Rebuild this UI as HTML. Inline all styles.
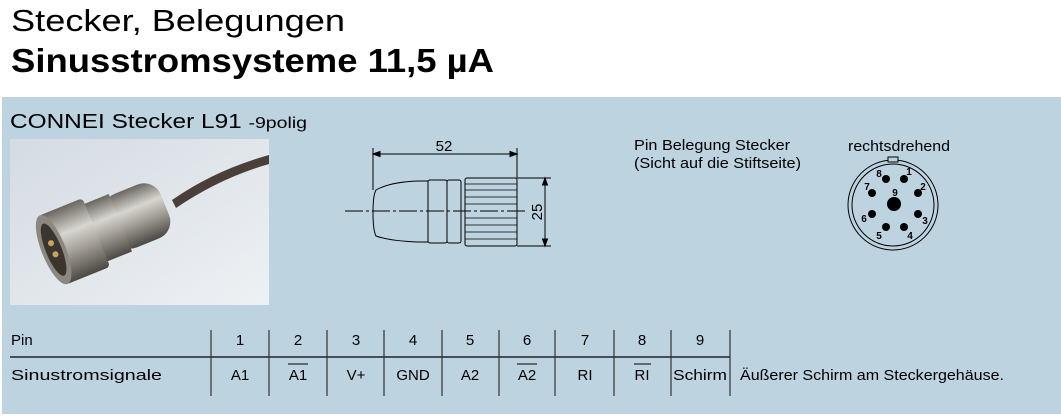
<!DOCTYPE html>
<html><head><meta charset="utf-8"><style>
body{margin:0;width:1061px;height:414px;background:#fff;overflow:hidden;font-family:"Liberation Sans",sans-serif;}
</style></head><body>
<svg width="1061" height="414" viewBox="0 0 1061 414" xmlns="http://www.w3.org/2000/svg" font-family="Liberation Sans, sans-serif">
<defs>
<linearGradient id="bg" x1="0" y1="0" x2="1" y2="1"><stop offset="0" stop-color="#d4dbe2"/><stop offset="1" stop-color="#eef1f4"/></linearGradient>
<linearGradient id="met" x1="0" y1="0" x2="0" y2="1"><stop offset="0" stop-color="#6a665f"/><stop offset="0.35" stop-color="#d8d6d0"/><stop offset="0.6" stop-color="#a7a39b"/><stop offset="1" stop-color="#4c4944"/></linearGradient>
</defs>
<text x="11" y="31" font-size="31" fill="#000" textLength="334" lengthAdjust="spacingAndGlyphs">Stecker, Belegungen</text>
<text x="11" y="72" font-size="33" font-weight="bold" fill="#000" textLength="483" lengthAdjust="spacingAndGlyphs">Sinusstromsysteme 11,5 µA</text>
<rect x="2" y="97" width="1059" height="317" fill="#bed3e0"/>
<text x="10" y="128" font-size="20" fill="#000" textLength="297" lengthAdjust="spacingAndGlyphs">CONNEI Stecker L91 <tspan font-size="16">-9polig</tspan></text>
<!-- photo -->
<rect x="10" y="139" width="259" height="166" fill="url(#bg)"/>
<path d="M172 200 Q215 170 269 155 L269 164 Q220 178 176 208 Z" fill="#4b3f3a"/>
<g transform="rotate(-22 105 230)">
<rect x="110" y="200" width="60" height="58" rx="18" fill="url(#met)"/>
<rect x="90" y="198" width="32" height="62" fill="url(#met)"/>
<rect x="48" y="192" width="48" height="74" rx="4" fill="url(#met)"/>
<ellipse cx="50" cy="229" rx="12" ry="37" fill="#8c8880"/>
<ellipse cx="50" cy="229" rx="8" ry="28" fill="#3a352e"/>
<circle cx="50" cy="222" r="3" fill="#c9a45a"/><circle cx="50" cy="234" r="3" fill="#c9a45a"/>
</g>
<!-- drawing -->
<g stroke="#000" fill="none" stroke-width="1">
<line x1="373" y1="148" x2="373" y2="190"/>
<line x1="517" y1="148" x2="517" y2="178"/>
<line x1="373" y1="154" x2="517" y2="154"/>
<path d="M373 154 l7 -2.5 v5z M517 154 l-7 -2.5 v5z" fill="#000"/>
<path d="M376 190 Q390 182 418 181 L428 181 L428 242 L418 242 Q390 241 376 236 Q373 230 373 213 Q373 195 376 190Z" fill="#bed3e0"/>
<rect x="428" y="180" width="19" height="63" rx="2"/>
<rect x="447" y="180" width="14" height="63" rx="2"/>
<rect x="465" y="178" width="52" height="68" rx="2"/>
<g stroke-width="0.8">
<line x1="465" y1="184" x2="517" y2="184"/><line x1="465" y1="190" x2="517" y2="190"/><line x1="465" y1="197" x2="517" y2="197"/><line x1="465" y1="204" x2="517" y2="204"/><line x1="465" y1="218" x2="517" y2="218"/><line x1="465" y1="225" x2="517" y2="225"/><line x1="465" y1="232" x2="517" y2="232"/><line x1="465" y1="239" x2="517" y2="239"/>
</g>
<line x1="345" y1="211" x2="528" y2="211" stroke-dasharray="18 3 3 3"/>
<line x1="517" y1="178" x2="551" y2="178"/>
<line x1="517" y1="246" x2="551" y2="246"/>
<line x1="545" y1="178" x2="545" y2="246"/>
<path d="M545 178 l-2.5 7 h5z M545 246 l-2.5 -7 h5z" fill="#000"/>
</g>
<text x="444" y="151" font-size="15" fill="#000" text-anchor="middle">52</text>
<text transform="translate(542 212) rotate(-90)" font-size="15" fill="#000" text-anchor="middle">25</text>
<text x="634" y="150" font-size="15" fill="#000" textLength="156" lengthAdjust="spacingAndGlyphs">Pin Belegung Stecker</text>
<text x="634" y="168" font-size="15" fill="#000" textLength="167" lengthAdjust="spacingAndGlyphs">(Sicht auf die Stiftseite)</text>
<text x="848" y="151" font-size="15" fill="#000" textLength="102" lengthAdjust="spacingAndGlyphs">rechtsdrehend</text>
<g stroke="#000" fill="none">
<circle cx="893" cy="205" r="45"/>
<circle cx="893" cy="205" r="41"/>
<rect x="888" y="157" width="10" height="5" fill="#bed3e0"/>
</g>
<g fill="#000">
<circle cx="894" cy="204" r="7"/>
<circle cx="904" cy="179" r="4"/><circle cx="918" cy="193" r="4"/><circle cx="918" cy="214" r="4"/><circle cx="904" cy="227" r="4"/>
<circle cx="886" cy="227" r="4"/><circle cx="872" cy="214" r="4"/><circle cx="872" cy="193" r="4"/><circle cx="886" cy="179" r="4"/>
</g>
<g font-size="10" font-weight="bold" fill="#000" text-anchor="middle">
<text x="909" y="175">1</text><text x="923" y="190">2</text><text x="925" y="224">3</text><text x="910" y="239">4</text>
<text x="879" y="239">5</text><text x="864" y="222">6</text><text x="867" y="190">7</text><text x="879" y="177">8</text><text x="895" y="196">9</text>
</g>
<!-- table -->
<line x1="10" y1="357" x2="730" y2="357" stroke="#000" stroke-width="1.2"/>
<g stroke="#333" stroke-width="1.2">
<line x1="211" y1="330" x2="211" y2="396"/><line x1="269" y1="330" x2="269" y2="396"/><line x1="327" y1="330" x2="327" y2="396"/>
<line x1="384" y1="330" x2="384" y2="396"/><line x1="442" y1="330" x2="442" y2="396"/><line x1="499" y1="330" x2="499" y2="396"/>
<line x1="555" y1="330" x2="555" y2="396"/><line x1="614" y1="330" x2="614" y2="396"/><line x1="671" y1="330" x2="671" y2="396"/>
<line x1="730" y1="330" x2="730" y2="396"/>
</g>
<g font-size="15" fill="#000">
<text x="11" y="345">Pin</text>
<text x="11" y="380" textLength="151" lengthAdjust="spacingAndGlyphs">Sinustromsignale</text>
<text x="740" y="380" textLength="264" lengthAdjust="spacingAndGlyphs">Äußerer Schirm am Steckergehäuse.</text>
</g>
<g font-size="15" fill="#000" text-anchor="middle">
<text x="240" y="345">1</text><text x="298" y="345">2</text><text x="356" y="345">3</text><text x="413" y="345">4</text><text x="470" y="345">5</text><text x="527" y="345">6</text><text x="585" y="345">7</text><text x="642" y="345">8</text><text x="700" y="345">9</text>
<text x="240" y="380">A1</text><text x="298" y="380">A1</text><text x="356" y="380">V+</text><text x="413" y="380">GND</text><text x="470" y="380">A2</text><text x="527" y="380">A2</text><text x="585" y="380">RI</text><text x="642" y="380">RI</text><text x="700" y="380" textLength="54" lengthAdjust="spacingAndGlyphs">Schirm</text>
</g>
<g stroke="#000" stroke-width="1">
<line x1="288" y1="364" x2="308" y2="364"/><line x1="517" y1="364" x2="537" y2="364"/><line x1="634" y1="364" x2="651" y2="364"/>
</g>
</svg>
</body></html>
